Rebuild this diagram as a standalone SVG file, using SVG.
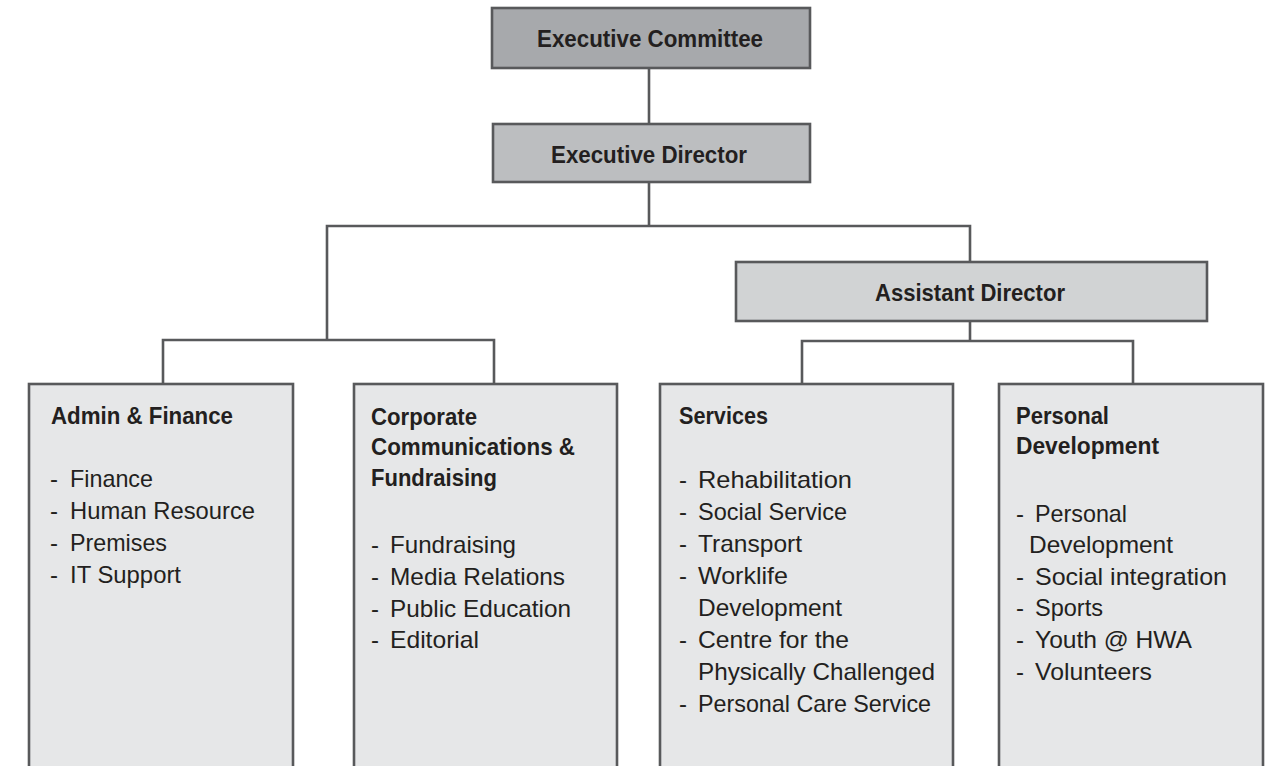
<svg xmlns="http://www.w3.org/2000/svg" width="1271" height="766" viewBox="0 0 1271 766">
<style>
.box{stroke:#58595b;stroke-width:2.6}
.l1{fill:#a7a9ac}.l2{fill:#bcbec0}.l3{fill:#d1d3d4}.l4{fill:#e6e7e8}
.conn{fill:none;stroke:#58595b;stroke-width:2.6}
text{font-family:"Liberation Sans",Arial,sans-serif;font-size:24px;fill:#231f20}
.t{font-weight:bold}
</style>
<rect width="1271" height="766" fill="#ffffff"/>
<g id="connectors" class="conn">
<path d="M649 68V124M649 182V226"/>
<path d="M327 340V226H970V262"/>
<path d="M163 383V340H494V383"/>
<path d="M970 321V341"/>
<path d="M802 383V341H1133V383"/>
</g>
<g id="executive-committee">
<rect class="box l1" x="492" y="8" width="318" height="60"/>
<text class="t" x="537" y="47" textLength="226" lengthAdjust="spacingAndGlyphs">Executive Committee</text>
</g>
<g id="executive-director">
<rect class="box l2" x="493" y="124" width="317" height="58"/>
<text class="t" x="551" y="163" textLength="196" lengthAdjust="spacingAndGlyphs">Executive Director</text>
</g>
<g id="assistant-director">
<rect class="box l3" x="736" y="262" width="471" height="59"/>
<text class="t" x="875" y="301" textLength="190" lengthAdjust="spacingAndGlyphs">Assistant Director</text>
</g>
<g id="admin-finance">
<rect class="box l4" x="29" y="384" width="264" height="420"/>
<text class="t" x="51" y="424" textLength="182" lengthAdjust="spacingAndGlyphs">Admin &amp; Finance</text>
<text y="487"><tspan x="50">-</tspan><tspan x="70" textLength="83" lengthAdjust="spacingAndGlyphs">Finance</tspan></text>
<text y="519"><tspan x="50">-</tspan><tspan x="70" textLength="185" lengthAdjust="spacingAndGlyphs">Human Resource</tspan></text>
<text y="551"><tspan x="50">-</tspan><tspan x="70" textLength="97" lengthAdjust="spacingAndGlyphs">Premises</tspan></text>
<text y="583"><tspan x="50">-</tspan><tspan x="70" textLength="111" lengthAdjust="spacingAndGlyphs">IT Support</tspan></text>
</g>
<g id="corporate-communications">
<rect class="box l4" x="354" y="384" width="263" height="420"/>
<text class="t" x="371" y="425" textLength="106" lengthAdjust="spacingAndGlyphs">Corporate</text>
<text class="t" x="371" y="455" textLength="204" lengthAdjust="spacingAndGlyphs">Communications &amp;</text>
<text class="t" x="371" y="486" textLength="126" lengthAdjust="spacingAndGlyphs">Fundraising</text>
<text y="553"><tspan x="371">-</tspan><tspan x="390" textLength="126" lengthAdjust="spacingAndGlyphs">Fundraising</tspan></text>
<text y="585"><tspan x="371">-</tspan><tspan x="390" textLength="175" lengthAdjust="spacingAndGlyphs">Media Relations</tspan></text>
<text y="617"><tspan x="371">-</tspan><tspan x="390" textLength="181" lengthAdjust="spacingAndGlyphs">Public Education</tspan></text>
<text y="648"><tspan x="371">-</tspan><tspan x="390" textLength="89" lengthAdjust="spacingAndGlyphs">Editorial</tspan></text>
</g>
<g id="services">
<rect class="box l4" x="660" y="384" width="293" height="420"/>
<text class="t" x="679" y="424" textLength="89" lengthAdjust="spacingAndGlyphs">Services</text>
<text y="488"><tspan x="679">-</tspan><tspan x="698" textLength="154" lengthAdjust="spacingAndGlyphs">Rehabilitation</tspan></text>
<text y="520"><tspan x="679">-</tspan><tspan x="698" textLength="149" lengthAdjust="spacingAndGlyphs">Social Service</tspan></text>
<text y="552"><tspan x="679">-</tspan><tspan x="698" textLength="104" lengthAdjust="spacingAndGlyphs">Transport</tspan></text>
<text y="584"><tspan x="679">-</tspan><tspan x="698" textLength="90" lengthAdjust="spacingAndGlyphs">Worklife</tspan></text>
<text x="698" y="616" textLength="144" lengthAdjust="spacingAndGlyphs">Development</text>
<text y="648"><tspan x="679">-</tspan><tspan x="698" textLength="151" lengthAdjust="spacingAndGlyphs">Centre for the</tspan></text>
<text x="698" y="680" textLength="237" lengthAdjust="spacingAndGlyphs">Physically Challenged</text>
<text y="712"><tspan x="679">-</tspan><tspan x="698" textLength="233" lengthAdjust="spacingAndGlyphs">Personal Care Service</tspan></text>
</g>
<g id="personal-development">
<rect class="box l4" x="999" y="384" width="264" height="420"/>
<text class="t" x="1016" y="424" textLength="93" lengthAdjust="spacingAndGlyphs">Personal</text>
<text class="t" x="1016" y="454" textLength="143" lengthAdjust="spacingAndGlyphs">Development</text>
<text y="522"><tspan x="1016">-</tspan><tspan x="1035" textLength="92" lengthAdjust="spacingAndGlyphs">Personal</tspan></text>
<text x="1029" y="553" textLength="144" lengthAdjust="spacingAndGlyphs">Development</text>
<text y="585"><tspan x="1016">-</tspan><tspan x="1035" textLength="192" lengthAdjust="spacingAndGlyphs">Social integration</tspan></text>
<text y="616"><tspan x="1016">-</tspan><tspan x="1035" textLength="68" lengthAdjust="spacingAndGlyphs">Sports</tspan></text>
<text y="648"><tspan x="1016">-</tspan><tspan x="1035" textLength="157" lengthAdjust="spacingAndGlyphs">Youth @ HWA</tspan></text>
<text y="680"><tspan x="1016">-</tspan><tspan x="1035" textLength="117" lengthAdjust="spacingAndGlyphs">Volunteers</tspan></text>
</g>
</svg>
